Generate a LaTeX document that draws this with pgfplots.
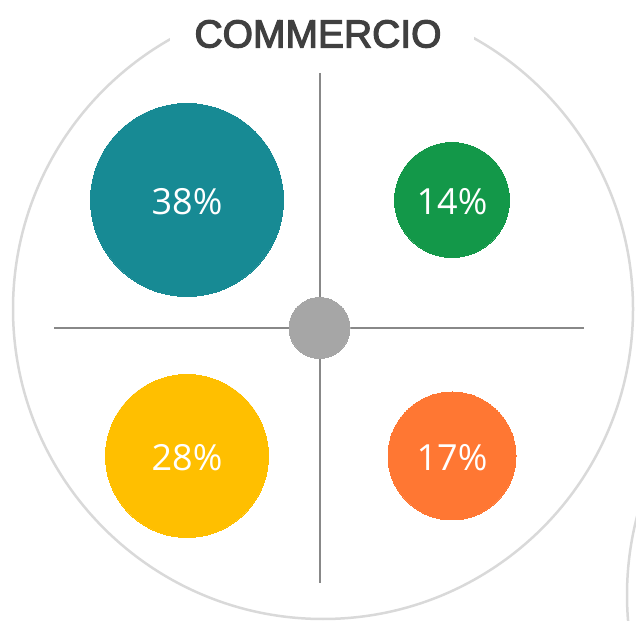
\documentclass[border=0pt]{standalone}
\usepackage{pgfplots}
\pgfplotsset{compat=1.18}
\usepackage{fontspec}
\setmainfont{Liberation Sans}
\newfontfamily\titlefont[FakeBold=3]{Liberation Sans}
\newfontfamily\opensans{Open Sans}
\definecolor{cteal}{HTML}{178A94}
\definecolor{cgreen}{HTML}{139849}
\definecolor{cyellow}{HTML}{FFBF00}
\definecolor{corange}{HTML}{FF7733}
\definecolor{cdot}{HTML}{A6A6A6}
\definecolor{cline}{HTML}{888888}
\definecolor{cring}{HTML}{D9D9D9}
\definecolor{ctitle}{HTML}{404040}
\begin{document}
\begin{tikzpicture}
\begin{axis}[
  scale only axis, width=636pt, height=620pt,
  xmin=0, xmax=636, ymin=0, ymax=620,
  hide axis, clip=true,
  every node near coord/.append style={anchor=center, text=white, yshift=-2pt, font=\opensans\fontsize{36}{36}\selectfont},
]
% outer ring and neighbouring ring
\draw[cring, line width=2.5pt] (axis cs:323,311) circle[radius=310pt];
\draw[cring, line width=2.5pt] (axis cs:937,25) circle[radius=310pt];
% cross lines
\addplot[cline, line width=2pt] coordinates {(319.5,547) (319.5,37)};
\addplot[cline, line width=2pt] coordinates {(54,292) (584,292)};
% centre dot
\addplot[only marks, mark=*, mark size=30.5pt, mark options={fill=cdot, draw=cdot, line width=0pt}] coordinates {(319.5,292)};
% bubbles
\addplot[only marks, mark=*, mark size=96.5pt, mark options={fill=cteal, draw=cteal, line width=0pt},
  nodes near coords={38\%}] coordinates {(187,420)};
\addplot[only marks, mark=*, mark size=57.5pt, mark options={fill=cgreen, draw=cgreen, line width=0pt},
  nodes near coords={14\%}] coordinates {(452,420)};
\addplot[only marks, mark=*, mark size=81.5pt, mark options={fill=cyellow, draw=cyellow, line width=0pt},
  nodes near coords={28\%}] coordinates {(187,164)};
\addplot[only marks, mark=*, mark size=64pt, mark options={fill=corange, draw=corange, line width=0pt},
  nodes near coords={17\%}] coordinates {(452,164)};
% title
\fill[white] (axis cs:170,574) rectangle (axis cs:474,625);
\node[text=ctitle, font=\titlefont\fontsize{39}{39}\selectfont, anchor=center] at (axis cs:318,586) {COMMERCIO};
\end{axis}
\pgfresetboundingbox
\path[use as bounding box] (current axis.south west) rectangle (current axis.north east);
\end{tikzpicture}
\end{document}
